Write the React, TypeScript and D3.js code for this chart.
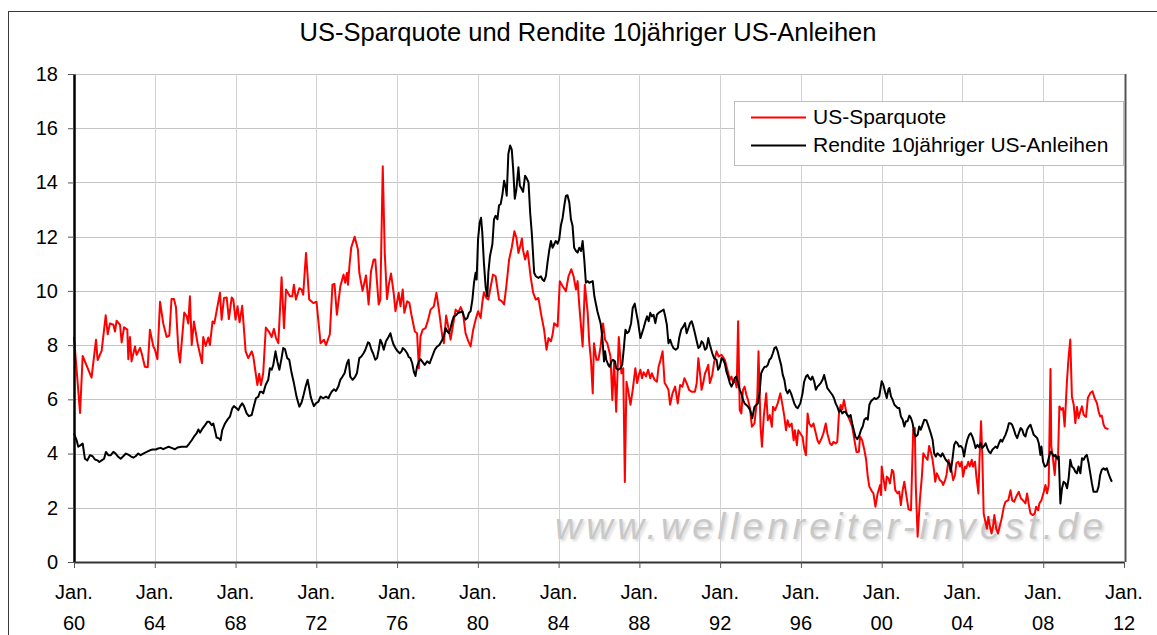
import React, { useEffect, useRef } from "react";
import * as d3 from "d3";

// chart texts
const title = "US-Sparquote und Rendite 10jähriger US-Anleihen";
const seriesNames = ["US-Sparquote", "Rendite 10jähriger US-Anleihen"];
const seriesColors = ["#ff0000", "#000000"];
const watermark = "www.wellenreiter-invest.de";

// axis ticks
const yTicks = [0, 2, 4, 6, 8, 10, 12, 14, 16, 18];
const xTickYears = [1960, 1964, 1968, 1972, 1976, 1980, 1984, 1988, 1992, 1996, 2000, 2004, 2008, 2012];

// [year, percent]
const sparquote: [number, number][] = [
  [1960.00,8.3],[1960.30,5.5],[1960.43,7.6],[1960.54,7.4],[1960.87,6.8],[1961.09,8.2],[1961.17,7.45],[1961.37,7.8],
  [1961.57,9.1],[1961.67,8.4],[1961.78,8.8],[1961.95,8.75],[1962.03,8.5],[1962.11,8.9],[1962.28,8.75],[1962.36,8.1],
  [1962.48,8.66],[1962.64,8.57],[1962.69,7.48],[1962.77,8.3],[1962.85,7.4],[1963.02,7.95],[1963.10,7.64],[1963.27,7.9],
  [1963.35,7.7],[1963.51,7.2],[1963.65,7.18],[1963.76,8.57],[1963.93,7.95],[1964.01,7.83],[1964.13,7.48],[1964.26,9.6],
  [1964.42,8.8],[1964.59,8.3],[1964.72,8.35],[1964.83,9.7],[1964.95,9.7],[1965.05,9.4],[1965.17,7.8],[1965.25,7.36],
  [1965.46,9.2],[1965.58,9.06],[1965.66,8.8],[1965.74,9.8],[1965.83,8.0],[1965.94,8.87],[1966.12,8.07],[1966.34,7.33],
  [1966.40,8.3],[1966.52,7.97],[1966.65,8.28],[1966.73,8.0],[1966.86,8.87],[1966.95,8.8],[1967.23,9.93],[1967.31,8.94],
  [1967.43,9.74],[1967.56,9.76],[1967.67,8.96],[1967.81,9.76],[1967.89,9.68],[1968.00,8.94],[1968.10,9.43],[1968.20,8.84],
  [1968.33,9.45],[1968.50,7.77],[1968.63,7.52],[1968.80,7.77],[1968.88,7.58],[1969.08,6.53],[1969.17,6.94],[1969.26,6.53],
  [1969.37,6.96],[1969.50,8.65],[1969.65,8.5],[1969.79,8.3],[1969.90,8.6],[1970.00,8.27],[1970.12,8.07],[1970.28,10.5],
  [1970.40,8.62],[1970.50,10.05],[1970.69,9.8],[1970.81,9.8],[1970.89,10.23],[1970.99,9.68],[1971.16,10.1],[1971.27,10.05],
  [1971.35,9.86],[1971.49,11.4],[1971.65,9.68],[1971.85,9.55],[1972.01,9.6],[1972.21,8.07],[1972.38,8.2],[1972.48,8.0],
  [1972.67,8.4],[1972.80,10.23],[1972.90,10.26],[1973.02,9.12],[1973.19,10.17],[1973.35,10.6],[1973.43,10.3],[1973.52,10.67],
  [1973.57,10.23],[1973.65,11.0],[1973.73,11.6],[1973.90,12.0],[1974.06,11.53],[1974.13,10.67],[1974.29,10.0],[1974.46,10.57],
  [1974.59,9.5],[1974.71,10.73],[1974.84,11.16],[1974.92,11.16],[1975.09,9.5],[1975.17,9.68],[1975.29,14.6],[1975.39,11.4],
  [1975.50,9.7],[1975.59,10.23],[1975.70,10.64],[1975.83,9.93],[1975.92,9.25],[1976.08,9.93],[1976.17,9.43],[1976.28,10.05],
  [1976.36,9.19],[1976.50,9.62],[1976.61,9.56],[1976.71,9.12],[1976.88,8.5],[1976.99,8.44],[1977.08,7.15],[1977.16,8.32],
  [1977.27,8.57],[1977.41,8.63],[1977.54,8.94],[1977.66,9.31],[1977.82,9.43],[1977.95,9.93],[1978.07,9.31],[1978.24,8.32],
  [1978.32,8.07],[1978.43,9.09],[1978.53,8.69],[1978.65,8.2],[1978.76,8.69],[1978.90,9.31],[1979.03,9.21],[1979.15,9.4],
  [1979.26,9.21],[1979.39,8.44],[1979.53,8.14],[1979.64,7.95],[1979.77,8.57],[1979.89,8.94],[1980.01,9.25],[1980.14,9.0],
  [1980.22,9.56],[1980.30,9.95],[1980.42,9.74],[1980.52,9.68],[1980.64,10.17],[1980.75,10.6],[1980.88,10.54],[1981.05,9.68],
  [1981.18,9.62],[1981.30,9.5],[1981.41,10.17],[1981.55,11.16],[1981.68,11.6],[1981.81,12.2],[1981.91,11.96],[1982.01,11.4],
  [1982.11,11.68],[1982.18,11.93],[1982.24,11.5],[1982.34,11.16],[1982.46,11.47],[1982.51,11.18],[1982.61,10.54],[1982.74,9.93],
  [1982.87,9.68],[1983.00,9.74],[1983.12,9.19],[1983.28,8.57],[1983.40,7.83],[1983.50,8.26],[1983.62,8.14],[1983.70,8.38],
  [1983.78,8.81],[1983.95,8.69],[1984.06,10.36],[1984.20,10.17],[1984.36,9.99],[1984.49,10.54],[1984.63,10.8],[1984.74,10.54],
  [1984.86,10.05],[1984.94,10.36],[1985.02,9.5],[1985.19,7.95],[1985.30,10.23],[1985.44,9.19],[1985.52,8.07],[1985.60,7.46],
  [1985.69,6.22],[1985.75,8.07],[1985.87,7.46],[1985.97,7.46],[1986.08,7.95],[1986.20,8.8],[1986.30,8.2],[1986.41,8.07],
  [1986.57,7.58],[1986.66,5.98],[1986.75,7.4],[1986.85,5.54],[1986.98,8.3],[1987.11,6.96],[1987.20,7.15],[1987.28,2.95],
  [1987.36,6.65],[1987.44,6.35],[1987.56,5.8],[1987.67,6.35],[1987.80,7.15],[1987.89,6.6],[1987.97,6.9],[1988.05,7.09],
  [1988.13,6.78],[1988.21,7.0],[1988.33,6.84],[1988.43,7.09],[1988.54,6.78],[1988.62,6.96],[1988.75,6.72],[1988.87,6.65],
  [1988.95,7.2],[1989.03,7.4],[1989.15,7.77],[1989.25,6.6],[1989.36,6.47],[1989.44,6.35],[1989.52,5.8],[1989.64,6.22],
  [1989.77,6.47],[1989.90,5.85],[1990.02,6.53],[1990.13,6.47],[1990.23,6.78],[1990.34,6.6],[1990.46,6.35],[1990.59,6.28],
  [1990.75,6.28],[1990.84,6.6],[1990.92,7.52],[1991.02,6.84],[1991.08,6.35],[1991.16,6.6],[1991.25,6.96],[1991.33,7.09],
  [1991.41,7.27],[1991.49,6.6],[1991.61,6.9],[1991.70,7.36],[1991.82,7.77],[1991.93,7.58],[1992.07,7.64],[1992.23,7.46],
  [1992.36,7.09],[1992.48,6.72],[1992.56,6.84],[1992.64,6.6],[1992.72,6.72],[1992.82,6.44],[1992.89,8.88],[1992.97,5.6],
  [1993.05,5.48],[1993.13,6.35],[1993.21,6.47],[1993.30,6.16],[1993.38,5.98],[1993.48,5.67],[1993.57,4.99],[1993.70,5.11],
  [1993.84,6.1],[1993.90,7.77],[1994.00,4.99],[1994.07,4.25],[1994.16,5.36],[1994.28,6.22],[1994.36,5.23],[1994.46,5.42],
  [1994.56,4.99],[1994.62,5.73],[1994.72,5.6],[1994.85,5.85],[1994.98,6.22],[1995.10,5.73],[1995.18,5.36],[1995.26,4.86],
  [1995.34,5.23],[1995.43,4.99],[1995.54,5.11],[1995.64,4.49],[1995.70,4.86],[1995.80,4.31],[1995.87,4.86],[1995.97,4.74],
  [1996.08,4.62],[1996.16,4.19],[1996.25,3.94],[1996.33,5.48],[1996.41,5.11],[1996.52,4.99],[1996.62,5.11],[1996.74,4.74],
  [1996.82,4.49],[1996.90,4.37],[1997.02,4.56],[1997.11,4.74],[1997.23,5.11],[1997.31,4.74],[1997.44,4.37],[1997.52,4.31],
  [1997.61,4.43],[1997.72,4.37],[1997.80,4.43],[1997.89,5.54],[1997.97,5.79],[1998.05,5.63],[1998.13,5.98],[1998.26,5.48],
  [1998.38,5.3],[1998.54,4.99],[1998.75,4.06],[1998.87,4.07],[1998.93,4.63],[1999.03,4.5],[1999.14,4.14],[1999.23,3.77],
  [1999.31,3.15],[1999.39,2.78],[1999.52,2.6],[1999.59,2.53],[1999.69,2.04],[1999.80,2.53],[1999.92,2.84],[1999.97,2.47],
  [2000.00,3.52],[2000.10,3.02],[2000.18,2.65],[2000.25,3.15],[2000.33,3.09],[2000.41,2.9],[2000.51,3.4],[2000.58,3.33],
  [2000.67,2.65],[2000.79,2.53],[2000.87,2.6],[2000.95,2.1],[2001.04,2.65],[2001.12,2.96],[2001.23,2.41],[2001.33,1.94],
  [2001.45,1.91],[2001.56,4.88],[2001.64,4.94],[2001.69,2.78],[2001.78,0.93],[2001.89,2.28],[2001.99,3.15],[2002.06,4.01],
  [2002.15,3.89],[2002.27,3.77],[2002.35,4.28],[2002.43,4.07],[2002.52,3.77],[2002.60,3.33],[2002.65,2.96],[2002.73,3.27],
  [2002.81,3.15],[2002.88,3.02],[2002.98,2.96],[2003.04,2.84],[2003.14,3.02],[2003.21,3.21],[2003.31,3.77],[2003.42,3.52],
  [2003.54,3.02],[2003.63,3.21],[2003.70,3.64],[2003.80,3.7],[2003.87,3.52],[2003.96,3.7],[2004.03,3.15],[2004.13,3.52],
  [2004.19,3.46],[2004.29,3.7],[2004.36,3.52],[2004.46,3.77],[2004.52,3.52],[2004.62,3.7],[2004.69,3.15],[2004.79,2.53],
  [2004.85,3.89],[2004.92,5.19],[2004.98,4.01],[2005.05,1.79],[2005.12,1.54],[2005.21,1.23],[2005.28,1.67],[2005.35,1.36],
  [2005.44,1.05],[2005.51,1.3],[2005.58,1.73],[2005.67,1.23],[2005.76,1.05],[2005.84,1.3],[2005.94,1.6],[2006.05,2.04],
  [2006.13,2.22],[2006.27,2.28],[2006.38,2.65],[2006.46,2.28],[2006.56,2.22],[2006.66,2.41],[2006.79,2.59],[2006.89,2.35],
  [2006.99,2.28],[2007.12,2.16],[2007.20,2.53],[2007.29,2.1],[2007.37,1.79],[2007.48,1.73],[2007.58,1.79],[2007.65,2.04],
  [2007.75,1.91],[2007.81,2.16],[2007.91,2.28],[2008.03,2.59],[2008.11,2.84],[2008.19,2.53],[2008.27,2.84],[2008.36,7.12],
  [2008.40,4.26],[2008.47,3.89],[2008.57,3.21],[2008.63,3.89],[2008.73,3.77],[2008.80,5.74],[2008.90,5.62],[2008.98,5.68],
  [2009.06,5.0],[2009.18,6.73],[2009.26,7.59],[2009.34,8.21],[2009.42,6.1],[2009.51,5.8],[2009.59,5.12],[2009.67,5.72],
  [2009.75,5.31],[2009.84,5.56],[2009.92,5.74],[2010.00,5.43],[2010.12,5.35],[2010.21,6.05],[2010.33,6.23],[2010.44,6.3],
  [2010.54,6.05],[2010.66,5.86],[2010.74,5.56],[2010.82,5.37],[2010.90,5.4],[2010.99,5.06],[2011.07,4.94],[2011.23,4.9],
];

const rendite: [number, number][] = [
  [1960.00,4.74],[1960.13,4.49],[1960.21,4.25],[1960.33,4.31],[1960.43,4.37],[1960.54,3.81],[1960.66,3.75],[1960.79,3.94],
  [1960.92,3.9],[1961.04,3.78],[1961.16,3.75],[1961.25,3.69],[1961.37,3.75],[1961.49,3.81],[1961.58,4.06],[1961.70,3.94],
  [1961.82,3.94],[1961.95,4.06],[1962.06,4.0],[1962.19,3.88],[1962.31,3.81],[1962.44,3.9],[1962.57,4.0],[1962.69,3.96],
  [1962.81,3.9],[1962.94,3.85],[1963.05,3.9],[1963.18,4.0],[1963.30,3.94],[1963.43,4.0],[1963.60,4.06],[1963.76,4.12],
  [1963.89,4.15],[1964.06,4.15],[1964.17,4.19],[1964.29,4.21],[1964.42,4.16],[1964.55,4.21],[1964.69,4.25],[1964.83,4.21],
  [1965.00,4.16],[1965.12,4.22],[1965.33,4.25],[1965.58,4.25],[1965.71,4.37],[1965.83,4.49],[1965.94,4.62],[1966.07,4.74],
  [1966.16,4.89],[1966.24,4.77],[1966.37,4.93],[1966.49,5.05],[1966.60,5.17],[1966.70,5.17],[1966.82,5.05],[1966.90,5.11],
  [1966.98,4.86],[1967.06,4.59],[1967.18,4.56],[1967.26,4.49],[1967.34,4.86],[1967.48,5.11],[1967.61,5.26],[1967.72,5.36],
  [1967.84,5.67],[1967.92,5.75],[1968.05,5.67],[1968.14,5.6],[1968.22,5.73],[1968.33,5.85],[1968.42,5.75],[1968.55,5.48],
  [1968.66,5.38],[1968.80,5.42],[1968.91,5.75],[1969.01,6.04],[1969.13,6.1],[1969.21,6.28],[1969.29,6.28],[1969.37,6.22],
  [1969.49,6.53],[1969.62,6.72],[1969.70,7.15],[1969.79,7.09],[1969.87,7.27],[1969.98,7.77],[1970.07,7.4],[1970.17,7.09],
  [1970.28,7.52],[1970.36,7.89],[1970.45,7.85],[1970.56,7.52],[1970.66,7.46],[1970.78,6.96],[1970.89,6.6],[1971.02,6.1],
  [1971.16,5.73],[1971.27,5.88],[1971.35,6.1],[1971.47,6.47],[1971.57,6.72],[1971.65,6.41],[1971.72,6.1],[1971.80,5.91],
  [1971.88,5.75],[1971.98,5.85],[1972.10,5.91],[1972.21,6.1],[1972.34,6.04],[1972.48,6.1],[1972.60,6.04],[1972.67,6.16],
  [1972.76,6.28],[1972.87,6.37],[1972.97,6.31],[1973.09,6.47],[1973.19,6.72],[1973.30,6.84],[1973.40,6.96],[1973.52,7.33],
  [1973.60,7.46],[1973.68,6.84],[1973.80,6.72],[1973.93,6.84],[1974.01,6.96],[1974.13,7.52],[1974.23,7.58],[1974.34,7.7],
  [1974.43,7.83],[1974.56,8.1],[1974.63,8.07],[1974.73,7.83],[1974.81,7.7],[1974.92,7.46],[1975.01,7.52],[1975.09,7.83],
  [1975.17,8.2],[1975.25,8.07],[1975.34,7.83],[1975.45,8.14],[1975.59,8.32],[1975.67,8.44],[1975.75,8.2],[1975.83,8.01],
  [1975.92,7.89],[1976.03,7.77],[1976.13,7.7],[1976.22,7.77],[1976.28,7.89],[1976.38,7.83],[1976.50,7.7],[1976.58,7.56],
  [1976.66,7.52],[1976.75,7.33],[1976.83,7.02],[1976.91,6.86],[1976.99,7.21],[1977.08,7.4],[1977.16,7.48],[1977.24,7.4],
  [1977.37,7.27],[1977.49,7.4],[1977.61,7.33],[1977.74,7.58],[1977.87,7.83],[1977.99,7.95],[1978.10,8.01],[1978.24,8.2],
  [1978.32,8.35],[1978.40,8.63],[1978.48,8.51],[1978.57,8.44],[1978.65,8.63],[1978.73,8.88],[1978.81,9.06],[1978.90,9.09],
  [1979.03,9.19],[1979.15,9.21],[1979.23,9.25],[1979.31,9.06],[1979.39,8.94],[1979.48,9.0],[1979.56,9.19],[1979.64,9.25],
  [1979.73,9.68],[1979.81,10.3],[1979.89,10.67],[1979.94,10.42],[1980.01,11.9],[1980.09,12.52],[1980.16,12.7],[1980.22,12.15],
  [1980.30,11.04],[1980.39,10.11],[1980.47,9.8],[1980.52,10.67],[1980.60,11.28],[1980.72,11.72],[1980.80,12.64],[1980.88,12.77],
  [1980.97,12.64],[1981.05,13.16],[1981.13,13.2],[1981.22,13.57],[1981.30,14.06],[1981.38,13.81],[1981.43,13.51],[1981.51,15.05],
  [1981.60,15.36],[1981.68,15.21],[1981.75,14.49],[1981.83,13.4],[1981.91,13.75],[1982.01,14.56],[1982.08,13.88],[1982.18,13.75],
  [1982.24,13.65],[1982.34,14.25],[1982.42,14.15],[1982.51,14.0],[1982.59,12.89],[1982.67,12.15],[1982.74,11.28],[1982.79,10.67],
  [1982.87,10.54],[1983.00,10.48],[1983.12,10.54],[1983.20,10.42],[1983.28,10.36],[1983.37,10.54],[1983.45,11.04],[1983.53,11.47],
  [1983.62,11.84],[1983.70,11.59],[1983.78,11.72],[1983.86,11.84],[1983.95,11.74],[1984.03,11.9],[1984.11,12.4],[1984.20,12.7],
  [1984.28,13.14],[1984.36,13.5],[1984.44,13.53],[1984.53,13.26],[1984.61,12.64],[1984.69,12.4],[1984.77,11.59],[1984.86,11.47],
  [1984.94,11.41],[1985.02,11.59],[1985.11,11.47],[1985.19,11.84],[1985.27,11.16],[1985.35,10.3],[1985.44,10.36],[1985.52,10.3],
  [1985.69,10.36],[1985.77,9.8],[1985.92,9.25],[1986.08,8.8],[1986.16,8.32],[1986.25,7.4],[1986.30,7.77],[1986.36,7.46],
  [1986.46,7.27],[1986.52,7.2],[1986.62,7.4],[1986.69,7.46],[1986.79,7.4],[1986.85,7.15],[1986.95,7.09],[1987.07,7.15],
  [1987.15,7.27],[1987.23,7.89],[1987.31,8.57],[1987.39,8.44],[1987.48,8.5],[1987.59,8.81],[1987.67,9.37],[1987.77,9.53],
  [1987.85,9.19],[1987.93,8.88],[1988.05,8.26],[1988.13,8.44],[1988.21,8.63],[1988.30,8.88],[1988.38,9.06],[1988.46,8.88],
  [1988.54,9.19],[1988.62,9.06],[1988.70,9.12],[1988.79,8.81],[1988.87,9.12],[1988.95,9.19],[1989.08,9.25],[1989.20,9.31],
  [1989.28,9.06],[1989.36,8.75],[1989.44,8.07],[1989.52,8.2],[1989.61,8.01],[1989.69,7.89],[1989.80,7.83],[1989.90,7.89],
  [1989.97,8.26],[1990.07,8.57],[1990.18,8.69],[1990.26,8.81],[1990.34,8.44],[1990.43,8.63],[1990.51,8.81],[1990.59,8.88],
  [1990.67,8.69],[1990.75,8.44],[1990.84,8.14],[1990.92,7.89],[1991.00,7.95],[1991.08,8.14],[1991.16,8.07],[1991.25,7.83],
  [1991.33,7.89],[1991.41,8.26],[1991.49,8.01],[1991.61,7.7],[1991.70,7.52],[1991.82,7.46],[1991.90,7.09],[1991.98,7.2],
  [1992.07,7.52],[1992.15,7.46],[1992.23,7.33],[1992.31,7.02],[1992.39,6.84],[1992.48,6.6],[1992.56,6.47],[1992.64,6.6],
  [1992.72,6.78],[1992.80,6.84],[1992.89,6.6],[1992.97,6.35],[1993.05,6.22],[1993.13,5.98],[1993.21,5.85],[1993.30,5.79],
  [1993.38,5.73],[1993.49,5.6],[1993.59,5.3],[1993.70,5.73],[1993.79,5.79],[1993.87,5.85],[1993.95,6.22],[1994.03,6.96],
  [1994.11,7.09],[1994.20,7.2],[1994.28,7.2],[1994.36,7.27],[1994.44,7.46],[1994.52,7.52],[1994.61,7.7],[1994.69,7.89],
  [1994.77,7.93],[1994.85,7.77],[1994.93,7.52],[1995.02,7.27],[1995.10,6.9],[1995.18,6.72],[1995.26,6.35],[1995.34,6.22],
  [1995.43,6.35],[1995.51,6.22],[1995.59,6.04],[1995.67,5.85],[1995.75,5.73],[1995.84,5.67],[1995.97,5.85],[1996.08,6.22],
  [1996.16,6.65],[1996.25,6.84],[1996.33,6.9],[1996.41,6.78],[1996.49,6.72],[1996.57,6.84],[1996.66,6.65],[1996.74,6.35],
  [1996.82,6.47],[1996.90,6.53],[1996.98,6.6],[1997.07,6.72],[1997.15,6.9],[1997.23,6.65],[1997.31,6.41],[1997.44,6.28],
  [1997.56,6.16],[1997.64,6.04],[1997.72,5.85],[1997.80,5.73],[1997.89,5.54],[1997.97,5.6],[1998.05,5.48],[1998.13,5.54],
  [1998.21,5.54],[1998.30,5.42],[1998.38,5.36],[1998.46,5.42],[1998.54,5.11],[1998.62,4.86],[1998.70,4.62],[1998.79,4.53],
  [1998.90,4.69],[1998.98,4.88],[1999.06,5.0],[1999.14,5.25],[1999.23,5.31],[1999.31,5.25],[1999.39,5.8],[1999.47,5.93],
  [1999.56,5.99],[1999.64,6.05],[1999.72,6.01],[1999.80,6.05],[1999.88,6.11],[2000.00,6.67],[2000.08,6.54],[2000.16,6.3],
  [2000.25,6.05],[2000.33,6.36],[2000.38,6.42],[2000.46,6.11],[2000.54,5.99],[2000.63,5.8],[2000.79,5.68],[2000.87,5.68],
  [2000.95,5.37],[2001.04,5.25],[2001.12,5.0],[2001.20,5.19],[2001.28,5.19],[2001.37,5.4],[2001.45,5.31],[2001.53,5.12],
  [2001.61,4.75],[2001.69,4.63],[2001.78,4.69],[2001.86,5.0],[2001.94,4.88],[2002.02,5.06],[2002.11,5.25],[2002.22,5.22],
  [2002.32,5.0],[2002.43,4.75],[2002.52,4.51],[2002.60,4.01],[2002.68,3.89],[2002.76,4.01],[2002.85,3.95],[2002.93,3.89],
  [2003.01,4.01],[2003.09,3.89],[2003.17,3.77],[2003.26,3.7],[2003.34,3.64],[2003.42,3.33],[2003.50,3.77],[2003.59,4.32],
  [2003.67,4.44],[2003.75,4.38],[2003.83,4.26],[2003.91,4.28],[2004.00,4.2],[2004.08,3.89],[2004.16,4.26],[2004.24,4.51],
  [2004.33,4.69],[2004.41,4.75],[2004.49,4.63],[2004.57,4.44],[2004.65,4.2],[2004.74,4.32],[2004.82,4.23],[2004.90,4.38],
  [2004.98,4.2],[2005.07,4.28],[2005.15,4.38],[2005.23,4.2],[2005.31,4.07],[2005.39,4.01],[2005.48,4.14],[2005.56,4.2],
  [2005.64,4.26],[2005.72,4.2],[2005.81,4.38],[2005.89,4.51],[2005.97,4.44],[2006.05,4.57],[2006.13,4.69],[2006.22,4.88],
  [2006.30,5.12],[2006.38,5.12],[2006.46,5.06],[2006.55,4.88],[2006.63,4.69],[2006.71,4.57],[2006.79,4.75],[2006.88,4.94],
  [2006.96,4.88],[2007.04,4.69],[2007.12,4.63],[2007.20,4.88],[2007.29,5.0],[2007.37,5.06],[2007.45,4.88],[2007.53,4.69],
  [2007.62,4.63],[2007.70,4.57],[2007.78,4.38],[2007.86,3.95],[2007.91,4.26],[2007.99,3.7],[2008.08,3.52],[2008.19,3.58],
  [2008.27,3.83],[2008.36,4.07],[2008.44,4.01],[2008.52,3.89],[2008.60,3.95],[2008.68,3.83],[2008.77,3.89],[2008.85,2.16],
  [2008.93,2.72],[2009.01,2.96],[2009.10,2.9],[2009.18,2.72],[2009.26,3.09],[2009.34,3.77],[2009.42,3.52],[2009.51,3.46],
  [2009.59,3.33],[2009.67,3.27],[2009.75,3.52],[2009.84,3.27],[2009.92,3.83],[2010.00,3.77],[2010.08,3.89],[2010.16,3.95],
  [2010.25,3.64],[2010.33,3.27],[2010.41,2.9],[2010.49,2.59],[2010.58,2.59],[2010.66,2.59],[2010.74,2.78],[2010.82,3.21],
  [2010.90,3.4],[2010.99,3.46],[2011.07,3.4],[2011.15,3.46],[2011.23,3.27],[2011.32,3.09],[2011.40,2.96],
];

const W = 1157;
const H = 635;
const margin = { left: 74, right: 1124, top: 74, bottom: 562 };
const font = "'Liberation Sans', Arial, Helvetica, sans-serif";

export default function App() {
  const svgRef = useRef<SVGSVGElement>(null);

  useEffect(() => {
    const svg = d3.select(svgRef.current);
    svg.selectAll("*").remove();

    const x = d3.scaleLinear().domain([1960, 2012]).range([margin.left, margin.right]);
    const y = d3.scaleLinear().domain([0, 18]).range([margin.bottom, margin.top]);

    svg.append("rect").attr("width", W).attr("height", H).attr("fill", "#fff");

    // outer chart frame
    svg.append("rect")
      .attr("x", 8.5).attr("y", 11.5)
      .attr("width", 1180).attr("height", 700)
      .attr("fill", "none").attr("stroke", "#3a3a3a").attr("stroke-width", 1);

    svg.append("text")
      .attr("x", 588).attr("y", 41)
      .attr("text-anchor", "middle")
      .attr("font-family", font).attr("font-size", 25.5)
      .attr("fill", "#000")
      .text(title);

    // gridlines
    svg.append("g").selectAll("line")
      .data(yTicks.filter((d) => d > 0))
      .enter().append("line")
      .attr("x1", margin.left).attr("x2", margin.right)
      .attr("y1", (d) => Math.round(y(d)) + 0.5).attr("y2", (d) => Math.round(y(d)) + 0.5)
      .attr("stroke", "#c4c4c4").attr("stroke-width", 1);
    svg.append("g").selectAll("line")
      .data(xTickYears.slice(1, -1))
      .enter().append("line")
      .attr("x1", (d) => Math.round(x(d)) + 0.5).attr("x2", (d) => Math.round(x(d)) + 0.5)
      .attr("y1", margin.top).attr("y2", margin.bottom)
      .attr("stroke", "#d2d2d2").attr("stroke-width", 1);

    // watermark
    const defs = svg.append("defs");
    defs.append("filter").attr("id", "wmblur")
      .append("feGaussianBlur").attr("stdDeviation", 1.6);
    const wm = svg.append("g").attr("font-family", font).attr("font-style", "italic")
      .attr("font-size", 37);
    wm.append("text")
      .attr("x", 557).attr("y", 541)
      .attr("textLength", 548).attr("lengthAdjust", "spacing")
      .attr("fill", "#d6d6d6").attr("filter", "url(#wmblur)")
      .text(watermark);
    wm.append("text")
      .attr("x", 555).attr("y", 539)
      .attr("textLength", 548).attr("lengthAdjust", "spacing")
      .attr("fill", "#c8c8c8")
      .text(watermark);

    // series lines
    const line = d3.line<[number, number]>()
      .x((d) => x(d[0]))
      .y((d) => y(d[1]));
    [sparquote, rendite].forEach((data, i) => {
      svg.append("path")
        .datum(data)
        .attr("d", line)
        .attr("fill", "none")
        .attr("stroke", seriesColors[i])
        .attr("stroke-width", 2)
        .attr("stroke-linejoin", "round");
    });

    // right border of plot area
    svg.append("line")
      .attr("x1", margin.right + 1.5).attr("x2", margin.right + 1.5)
      .attr("y1", margin.top).attr("y2", margin.bottom)
      .attr("stroke", "#555").attr("stroke-width", 2);

    // y axis
    const yAxis = svg.append("g")
      .attr("transform", `translate(${margin.left},0)`)
      .call(d3.axisLeft(y).tickValues(yTicks).tickSize(6).tickSizeOuter(0).tickPadding(10));
    yAxis.select(".domain").attr("stroke", "#000").attr("stroke-width", 2.5);
    yAxis.selectAll(".tick line").attr("stroke", "#555");
    yAxis.selectAll(".tick text")
      .attr("font-family", font).attr("font-size", 20).attr("fill", "#000");

    // x axis
    const xAxis = svg.append("g")
      .attr("transform", `translate(0,${margin.bottom})`)
      .call(d3.axisBottom(x).tickValues(xTickYears).tickSize(6).tickSizeOuter(0).tickFormat(() => ""));
    xAxis.select(".domain").attr("stroke", "#333").attr("stroke-width", 2);
    xAxis.selectAll(".tick line").attr("stroke", "#555");

    const xl = svg.append("g").attr("font-family", font).attr("font-size", 20)
      .attr("text-anchor", "middle").attr("fill", "#000");
    xl.selectAll("text.jan")
      .data(xTickYears).enter().append("text")
      .attr("class", "jan")
      .attr("x", (d) => x(d)).attr("y", 599)
      .text("Jan.");
    xl.selectAll("text.yr")
      .data(xTickYears).enter().append("text")
      .attr("class", "yr")
      .attr("x", (d) => x(d)).attr("y", 630)
      .text((d) => String(d % 100).padStart(2, "0"));

    // legend
    const lg = svg.append("g");
    lg.append("rect")
      .attr("x", 734.5).attr("y", 101.5).attr("width", 389).attr("height", 64)
      .attr("fill", "#fff").attr("stroke", "#bdbdbd");
    seriesNames.forEach((name, i) => {
      const ly = 117.5 + i * 28;
      lg.append("line")
        .attr("x1", 751).attr("x2", 806)
        .attr("y1", ly).attr("y2", ly)
        .attr("stroke", seriesColors[i]).attr("stroke-width", 2);
      lg.append("text")
        .attr("x", 813).attr("y", ly + 6)
        .attr("font-family", font).attr("font-size", 21)
        .attr("fill", "#000")
        .text(name);
    });
  }, []);

  return (
    <svg
      ref={svgRef}
      width={W}
      height={H}
      style={{ position: "absolute", left: 0, top: 0, display: "block" }}
    />
  );
}
